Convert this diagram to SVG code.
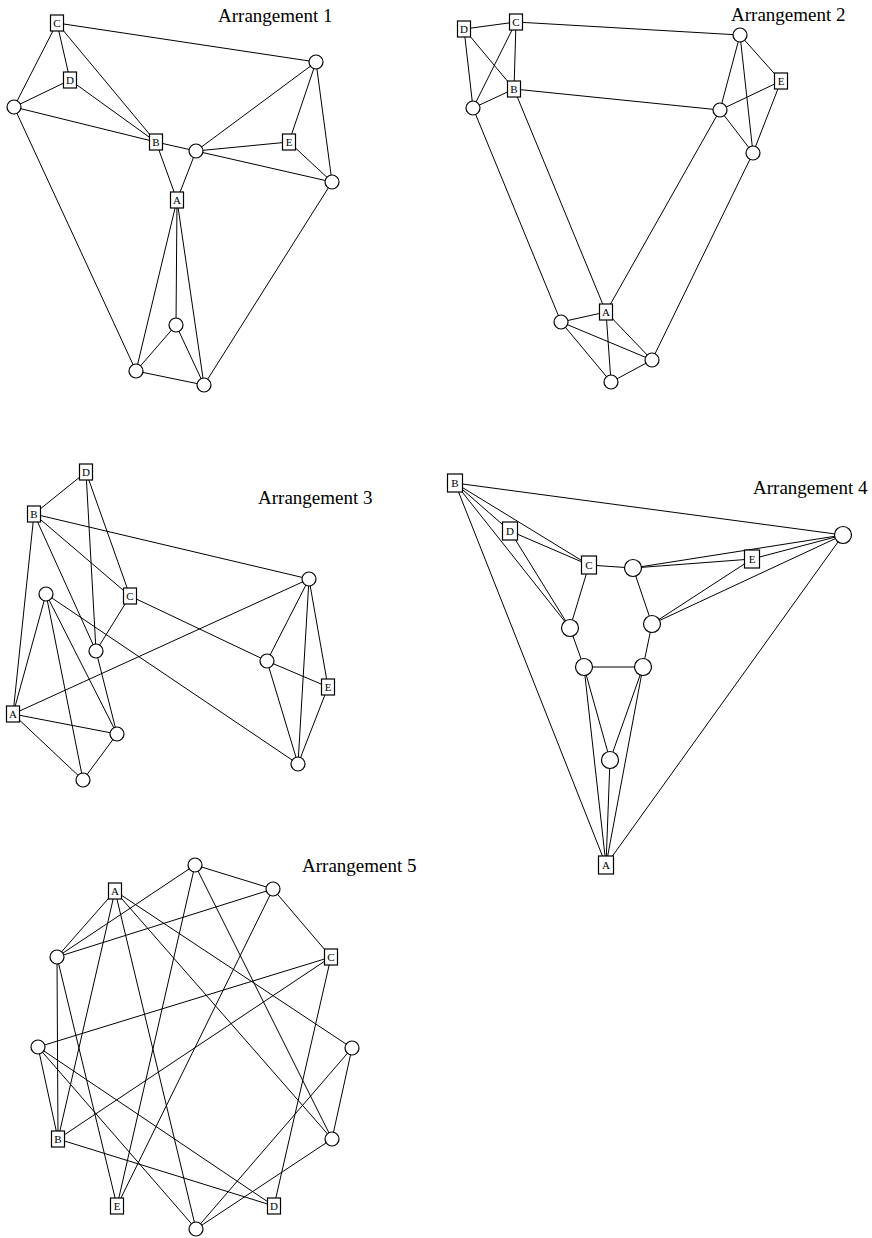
<svg xmlns="http://www.w3.org/2000/svg" width="872" height="1238" viewBox="0 0 872 1238">
<style>
.e line{stroke:#000;stroke-width:1;fill:none}
.n circle,.n rect{fill:#fff;stroke:#000;stroke-width:1.2}
.n text{font-family:"Liberation Serif",serif;font-size:11px;text-anchor:middle;fill:#000}
.t{font-family:"Liberation Serif",serif;font-size:19px;fill:#000}
</style>
<rect width="872" height="1238" fill="#fff"/>
<text class="t" x="218" y="22">Arrangement 1</text>
<text class="t" x="731" y="21">Arrangement 2</text>
<text class="t" x="258" y="504">Arrangement 3</text>
<text class="t" x="753" y="494">Arrangement 4</text>
<text class="t" x="302" y="872">Arrangement 5</text>
<g id="connectors" class="e">
<!-- Arrangement 1 -->
<line x1="57" y1="23" x2="70" y2="80"/>
<line x1="57" y1="23" x2="14" y2="107"/>
<line x1="57" y1="23" x2="156" y2="142"/>
<line x1="57" y1="23" x2="316" y2="62"/>
<line x1="70" y1="80" x2="14" y2="107"/>
<line x1="70" y1="80" x2="156" y2="142"/>
<line x1="14" y1="107" x2="156" y2="142"/>
<line x1="14" y1="107" x2="136" y2="371"/>
<line x1="156" y1="142" x2="196" y2="151"/>
<line x1="156" y1="142" x2="177" y2="200"/>
<line x1="196" y1="151" x2="177" y2="200"/>
<line x1="196" y1="151" x2="316" y2="62"/>
<line x1="196" y1="151" x2="289" y2="142"/>
<line x1="196" y1="151" x2="332" y2="182"/>
<line x1="289" y1="142" x2="316" y2="62"/>
<line x1="289" y1="142" x2="332" y2="182"/>
<line x1="316" y1="62" x2="332" y2="182"/>
<line x1="332" y1="182" x2="204" y2="385"/>
<line x1="177" y1="200" x2="136" y2="371"/>
<line x1="177" y1="200" x2="176" y2="325"/>
<line x1="177" y1="200" x2="204" y2="385"/>
<line x1="176" y1="325" x2="136" y2="371"/>
<line x1="176" y1="325" x2="204" y2="385"/>
<line x1="136" y1="371" x2="204" y2="385"/>
<!-- Arrangement 2 -->
<line x1="464" y1="29" x2="516" y2="22"/>
<line x1="464" y1="29" x2="514" y2="89"/>
<line x1="464" y1="29" x2="473" y2="108"/>
<line x1="516" y1="22" x2="473" y2="108"/>
<line x1="516" y1="22" x2="514" y2="89"/>
<line x1="516" y1="22" x2="740" y2="35"/>
<line x1="514" y1="89" x2="473" y2="108"/>
<line x1="514" y1="89" x2="720" y2="110"/>
<line x1="514" y1="89" x2="606" y2="312"/>
<line x1="473" y1="108" x2="561" y2="322"/>
<line x1="740" y1="35" x2="781" y2="81"/>
<line x1="740" y1="35" x2="720" y2="110"/>
<line x1="740" y1="35" x2="753" y2="153"/>
<line x1="781" y1="81" x2="720" y2="110"/>
<line x1="781" y1="81" x2="753" y2="153"/>
<line x1="720" y1="110" x2="753" y2="153"/>
<line x1="720" y1="110" x2="606" y2="312"/>
<line x1="753" y1="153" x2="652" y2="360"/>
<line x1="606" y1="312" x2="561" y2="322"/>
<line x1="606" y1="312" x2="611" y2="382"/>
<line x1="606" y1="312" x2="652" y2="360"/>
<line x1="561" y1="322" x2="652" y2="360"/>
<line x1="561" y1="322" x2="611" y2="382"/>
<line x1="611" y1="382" x2="652" y2="360"/>
<!-- Arrangement 3 -->
<line x1="86" y1="472" x2="34" y2="514"/>
<line x1="86" y1="472" x2="96" y2="651"/>
<line x1="86" y1="472" x2="130" y2="596"/>
<line x1="34" y1="514" x2="309" y2="579"/>
<line x1="34" y1="514" x2="130" y2="596"/>
<line x1="34" y1="514" x2="96" y2="651"/>
<line x1="34" y1="514" x2="13" y2="714"/>
<line x1="130" y1="596" x2="96" y2="651"/>
<line x1="130" y1="596" x2="267" y2="661"/>
<line x1="46" y1="594" x2="13" y2="714"/>
<line x1="46" y1="594" x2="83" y2="780"/>
<line x1="46" y1="594" x2="117" y2="734"/>
<line x1="46" y1="594" x2="298" y2="764"/>
<line x1="96" y1="651" x2="117" y2="734"/>
<line x1="13" y1="714" x2="309" y2="579"/>
<line x1="13" y1="714" x2="117" y2="734"/>
<line x1="13" y1="714" x2="83" y2="780"/>
<line x1="117" y1="734" x2="83" y2="780"/>
<line x1="309" y1="579" x2="267" y2="661"/>
<line x1="309" y1="579" x2="298" y2="764"/>
<line x1="309" y1="579" x2="328" y2="687"/>
<line x1="267" y1="661" x2="328" y2="687"/>
<line x1="267" y1="661" x2="298" y2="764"/>
<line x1="328" y1="687" x2="298" y2="764"/>
<!-- Arrangement 4 -->
<line x1="455" y1="483" x2="843" y2="535"/>
<line x1="455" y1="483" x2="510" y2="531"/>
<line x1="455" y1="483" x2="589" y2="565"/>
<line x1="455" y1="483" x2="570" y2="628"/>
<line x1="455" y1="483" x2="606" y2="865"/>
<line x1="510" y1="531" x2="589" y2="565"/>
<line x1="510" y1="531" x2="570" y2="628"/>
<line x1="589" y1="565" x2="633" y2="568"/>
<line x1="589" y1="565" x2="570" y2="628"/>
<line x1="633" y1="568" x2="752" y2="559"/>
<line x1="633" y1="568" x2="843" y2="535"/>
<line x1="633" y1="568" x2="652" y2="624"/>
<line x1="752" y1="559" x2="843" y2="535"/>
<line x1="752" y1="559" x2="652" y2="624"/>
<line x1="652" y1="624" x2="843" y2="535"/>
<line x1="843" y1="535" x2="606" y2="865"/>
<line x1="570" y1="628" x2="584" y2="667"/>
<line x1="652" y1="624" x2="643" y2="667"/>
<line x1="584" y1="667" x2="643" y2="667"/>
<line x1="584" y1="667" x2="610" y2="760"/>
<line x1="584" y1="667" x2="606" y2="865"/>
<line x1="643" y1="667" x2="610" y2="760"/>
<line x1="643" y1="667" x2="606" y2="865"/>
<line x1="610" y1="760" x2="606" y2="865"/>
<!-- Arrangement 5 -->
<line x1="115" y1="891" x2="57" y2="957"/>
<line x1="115" y1="891" x2="58" y2="1139"/>
<line x1="115" y1="891" x2="196" y2="1229"/>
<line x1="115" y1="891" x2="332" y2="1139"/>
<line x1="115" y1="891" x2="352" y2="1048"/>
<line x1="58" y1="1139" x2="57" y2="957"/>
<line x1="58" y1="1139" x2="274" y2="1206"/>
<line x1="58" y1="1139" x2="331" y2="957"/>
<line x1="58" y1="1139" x2="38" y2="1047"/>
<line x1="331" y1="957" x2="273" y2="889"/>
<line x1="331" y1="957" x2="274" y2="1206"/>
<line x1="331" y1="957" x2="38" y2="1047"/>
<line x1="117" y1="1206" x2="273" y2="889"/>
<line x1="117" y1="1206" x2="57" y2="957"/>
<line x1="117" y1="1206" x2="195" y2="865"/>
<line x1="274" y1="1206" x2="38" y2="1047"/>
<line x1="57" y1="957" x2="195" y2="865"/>
<line x1="57" y1="957" x2="273" y2="889"/>
<line x1="195" y1="865" x2="273" y2="889"/>
<line x1="195" y1="865" x2="332" y2="1139"/>
<line x1="38" y1="1047" x2="196" y2="1229"/>
<line x1="196" y1="1229" x2="332" y2="1139"/>
<line x1="196" y1="1229" x2="352" y2="1048"/>
<line x1="332" y1="1139" x2="352" y2="1048"/>
</g>
<g id="nodes1" class="n">
<g id="a1-C" transform="translate(57,23)"><rect x="-6.5" y="-8" width="13" height="16"/><text y="4">C</text></g>
<g id="a1-D" transform="translate(70,80)"><rect x="-6.5" y="-8" width="13" height="16"/><text y="4">D</text></g>
<g id="a1-B" transform="translate(156,142)"><rect x="-6.5" y="-8" width="13" height="16"/><text y="4">B</text></g>
<g id="a1-E" transform="translate(289,142)"><rect x="-6.5" y="-8" width="13" height="16"/><text y="4">E</text></g>
<g id="a1-A" transform="translate(177,200)"><rect x="-6.5" y="-8" width="13" height="16"/><text y="4">A</text></g>
<g id="a1-n1"><circle cx="14" cy="107" r="7"/></g>
<g id="a1-n2"><circle cx="196" cy="151" r="7"/></g>
<g id="a1-n3"><circle cx="316" cy="62" r="7"/></g>
<g id="a1-n4"><circle cx="332" cy="182" r="7"/></g>
<g id="a1-n5"><circle cx="176" cy="325" r="7"/></g>
<g id="a1-n6"><circle cx="136" cy="371" r="7"/></g>
<g id="a1-n7"><circle cx="204" cy="385" r="7"/></g>
</g>
<g id="nodes2" class="n">
<g id="a2-D" transform="translate(464,29)"><rect x="-6.5" y="-8" width="13" height="16"/><text y="4">D</text></g>
<g id="a2-C" transform="translate(516,22)"><rect x="-6.5" y="-8" width="13" height="16"/><text y="4">C</text></g>
<g id="a2-B" transform="translate(514,89)"><rect x="-6.5" y="-8" width="13" height="16"/><text y="4">B</text></g>
<g id="a2-E" transform="translate(781,81)"><rect x="-6.5" y="-8" width="13" height="16"/><text y="4">E</text></g>
<g id="a2-A" transform="translate(606,312)"><rect x="-6.5" y="-8" width="13" height="16"/><text y="4">A</text></g>
<g id="a2-n1"><circle cx="473" cy="108" r="7"/></g>
<g id="a2-n2"><circle cx="740" cy="35" r="7"/></g>
<g id="a2-n3"><circle cx="720" cy="110" r="7"/></g>
<g id="a2-n4"><circle cx="753" cy="153" r="7"/></g>
<g id="a2-n5"><circle cx="561" cy="322" r="7"/></g>
<g id="a2-n6"><circle cx="652" cy="360" r="7"/></g>
<g id="a2-n7"><circle cx="611" cy="382" r="7"/></g>
</g>
<g id="nodes3" class="n">
<g id="a3-D" transform="translate(86,472)"><rect x="-6.5" y="-8" width="13" height="16"/><text y="4">D</text></g>
<g id="a3-B" transform="translate(34,514)"><rect x="-6.5" y="-8" width="13" height="16"/><text y="4">B</text></g>
<g id="a3-C" transform="translate(130,596)"><rect x="-6.5" y="-8" width="13" height="16"/><text y="4">C</text></g>
<g id="a3-A" transform="translate(13,714)"><rect x="-6.5" y="-8" width="13" height="16"/><text y="4">A</text></g>
<g id="a3-E" transform="translate(328,687)"><rect x="-6.5" y="-8" width="13" height="16"/><text y="4">E</text></g>
<g id="a3-n1"><circle cx="46" cy="594" r="7"/></g>
<g id="a3-n2"><circle cx="96" cy="651" r="7"/></g>
<g id="a3-n3"><circle cx="117" cy="734" r="7"/></g>
<g id="a3-n4"><circle cx="83" cy="780" r="7"/></g>
<g id="a3-n5"><circle cx="309" cy="579" r="7"/></g>
<g id="a3-n6"><circle cx="267" cy="661" r="7"/></g>
<g id="a3-n7"><circle cx="298" cy="764" r="7"/></g>
</g>
<g id="nodes4" class="n">
<g id="a4-B" transform="translate(455,483)"><rect x="-7.5" y="-9" width="15" height="18"/><text y="4">B</text></g>
<g id="a4-D" transform="translate(510,531)"><rect x="-7.5" y="-9" width="15" height="18"/><text y="4">D</text></g>
<g id="a4-C" transform="translate(589,565)"><rect x="-7.5" y="-9" width="15" height="18"/><text y="4">C</text></g>
<g id="a4-E" transform="translate(752,559)"><rect x="-7.5" y="-9" width="15" height="18"/><text y="4">E</text></g>
<g id="a4-A" transform="translate(606,865)"><rect x="-7.5" y="-9" width="15" height="18"/><text y="4">A</text></g>
<g id="a4-n1"><circle cx="633" cy="568" r="8.5"/></g>
<g id="a4-n2"><circle cx="843" cy="535" r="8.5"/></g>
<g id="a4-n3"><circle cx="570" cy="628" r="8.5"/></g>
<g id="a4-n4"><circle cx="652" cy="624" r="8.5"/></g>
<g id="a4-n5"><circle cx="584" cy="667" r="8.5"/></g>
<g id="a4-n6"><circle cx="643" cy="667" r="8.5"/></g>
<g id="a4-n7"><circle cx="610" cy="760" r="8.5"/></g>
</g>
<g id="nodes5" class="n">
<g id="a5-A" transform="translate(115,891)"><rect x="-6.5" y="-8" width="13" height="16"/><text y="4">A</text></g>
<g id="a5-C" transform="translate(331,957)"><rect x="-6.5" y="-8" width="13" height="16"/><text y="4">C</text></g>
<g id="a5-B" transform="translate(58,1139)"><rect x="-6.5" y="-8" width="13" height="16"/><text y="4">B</text></g>
<g id="a5-E" transform="translate(117,1206)"><rect x="-6.5" y="-8" width="13" height="16"/><text y="4">E</text></g>
<g id="a5-D" transform="translate(274,1206)"><rect x="-6.5" y="-8" width="13" height="16"/><text y="4">D</text></g>
<g id="a5-n1"><circle cx="195" cy="865" r="7"/></g>
<g id="a5-n2"><circle cx="273" cy="889" r="7"/></g>
<g id="a5-n3"><circle cx="57" cy="957" r="7"/></g>
<g id="a5-n4"><circle cx="38" cy="1047" r="7"/></g>
<g id="a5-n5"><circle cx="352" cy="1048" r="7"/></g>
<g id="a5-n6"><circle cx="332" cy="1139" r="7"/></g>
<g id="a5-n7"><circle cx="196" cy="1229" r="7"/></g>
</g>
</svg>
